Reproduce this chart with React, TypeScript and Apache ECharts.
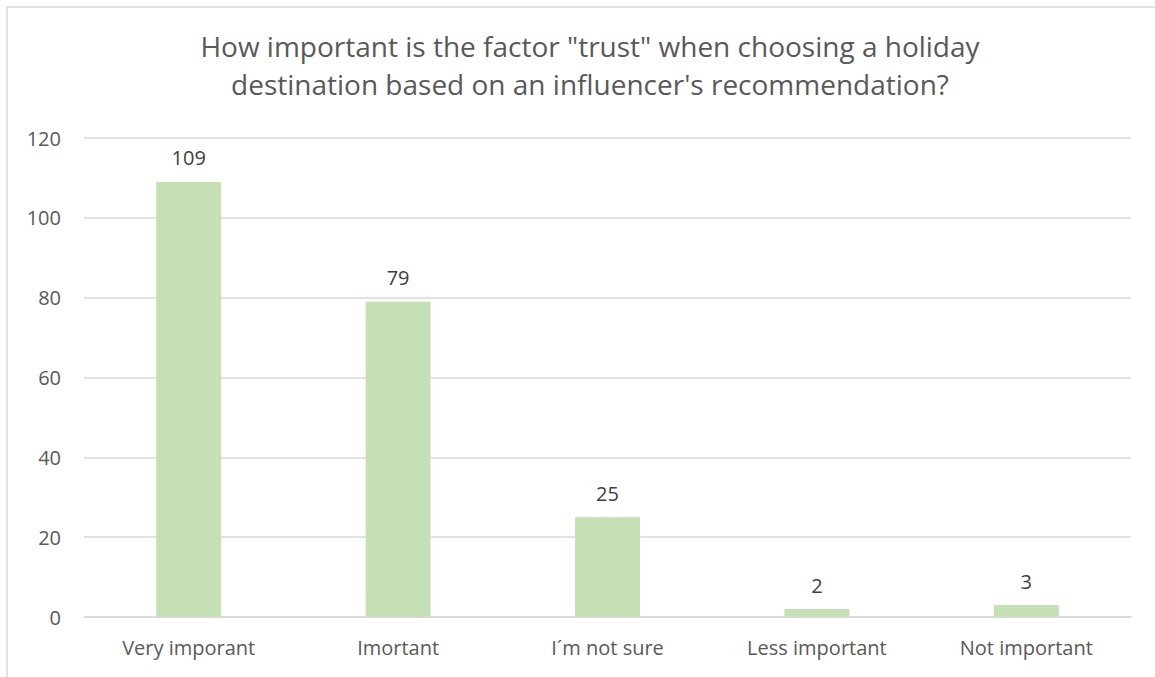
import React, { useEffect, useRef } from "react";
import * as echarts from "echarts";

const categories = ["Very imporant", "Imortant", "I´m not sure", "Less important", "Not important"];
const values = [109, 79, 25, 2, 3];
const titleText = 'How important is the factor "trust" when choosing a holiday\ndestination based on an influencer\'s recommendation?';

export default function App() {
  const ref = useRef<HTMLDivElement>(null);
  useEffect(() => {
    if (!ref.current) return;
    const chart = echarts.init(ref.current, null, { renderer: "svg" });
    const font = "'Open Sans', sans-serif";
    chart.setOption({
      animation: false,
      backgroundColor: "#ffffff",
      title: {
        text: titleText,
        left: 585,
        textAlign: "center",
        top: 22,
        textStyle: { fontFamily: font, fontSize: 28, fontWeight: "normal", color: "#595959", lineHeight: 38 },
      },
      graphic: [
        {
          type: "rect",
          shape: { x: 7, y: 7, width: 1300, height: 900 },
          style: { fill: "none", stroke: "#d9d9d9", lineWidth: 1.5 },
          silent: true,
        },
      ],
      grid: { left: 84, right: 24, top: 138, bottom: 60, containLabel: false },
      xAxis: {
        type: "category",
        data: categories,
        axisLine: { show: true, lineStyle: { color: "#d9d9d9", width: 1.5 } },
        axisTick: { show: false },
        axisLabel: { fontFamily: font, fontSize: 20, color: "#595959", margin: 20 },
      },
      yAxis: {
        type: "value",
        min: 0,
        max: 120,
        interval: 20,
        axisLine: { show: false },
        axisTick: { show: false },
        splitLine: { lineStyle: { color: "#d9d9d9", width: 1.5 } },
        axisLabel: { fontFamily: font, fontSize: 20, color: "#595959", margin: 23 },
      },
      series: [
        {
          type: "bar",
          data: values,
          barWidth: "31%",
          itemStyle: { color: "#c5e0b4" },
          label: {
            show: true,
            position: "top",
            distance: 14,
            fontFamily: font,
            fontSize: 20,
            color: "#404040",
          },
        },
      ],
    });
    return () => chart.dispose();
  }, []);
  return <div ref={ref} style={{ position: "fixed", left: 0, top: 0, width: 1155, height: 677 }} />;
}
